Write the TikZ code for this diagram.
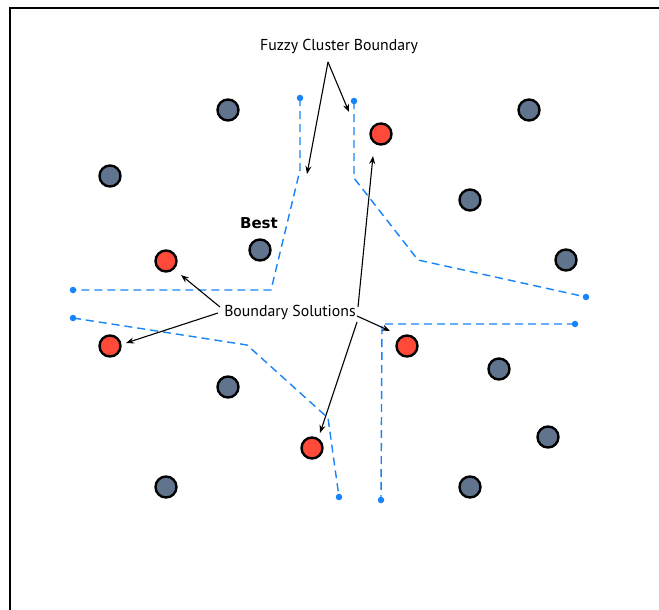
\documentclass[tikz,border=0pt]{standalone}
\usepackage{fontspec}
\setmainfont{PT Sans}
\newfontfamily\bestfont{DejaVu Sans}
\usetikzlibrary{arrows.meta}
\definecolor{solgray}{RGB}{96,116,142}
\definecolor{solred}{RGB}{255,74,58}
\definecolor{bndblue}{RGB}{22,132,250}
\begin{document}
\begin{tikzpicture}[x=1pt,y=-1pt,
  sol/.style={circle,draw=black,line width=2.4pt,minimum size=21pt,inner sep=0pt},
  gsol/.style={sol,fill=solgray},
  rsol/.style={sol,fill=solred},
  bnd/.style={draw=bndblue,line width=1.4pt,dash pattern=on 8pt off 5pt},
  bdot/.style={circle,fill=bndblue,inner sep=0pt,minimum size=6.5pt},
  lbl/.style={font=\fontsize{15.8}{17}\selectfont,inner sep=1pt},
  arr/.style={-{Stealth[length=8pt,width=6pt]},line width=1.1pt,black}
]
\useasboundingbox (0,0) rectangle (659,610);
\fill[white] (0,0) rectangle (659,610);
% frame
\draw[line width=2.5pt,line join=miter] (10,612) -- (10,8) -- (661,8);

% gray solutions
\node[gsol] (g1) at (228,110) {};
\node[gsol] (g2) at (110,176) {};
\node[gsol] (g3) at (529,110) {};
\node[gsol] (g4) at (470,200) {};
\node[gsol] (g5) at (260,250) {};
\node[gsol] (g6) at (566,260) {};
\node[gsol] (g7) at (228,387) {};
\node[gsol] (g8) at (499,369) {};
\node[gsol] (g9) at (548,437) {};
\node[gsol] (g10) at (166,487) {};
\node[gsol] (g11) at (470,487) {};
% red solutions
\node[rsol] (r1) at (381,134) {};
\node[rsol] (r2) at (166,261) {};
\node[rsol] (r3) at (110,346) {};
\node[rsol] (r4) at (407,346) {};
\node[rsol] (r5) at (312,448) {};

% boundary lines
\coordinate (a1) at (300,98);
\coordinate (a2) at (300,170);
\coordinate (a3) at (271,290);
\coordinate (a4) at (73,290);
\coordinate (b1) at (354,101);
\coordinate (b2) at (354,178);
\coordinate (b3) at (418,260);
\coordinate (b4) at (586,297);
\coordinate (c1) at (575,324);
\coordinate (c2) at (382,324);
\coordinate (c3) at (381,500);
\coordinate (d1) at (73,318);
\coordinate (d2) at (247,345);
\coordinate (d3) at (328,418);
\coordinate (d4) at (339,497);
\draw[bnd] (a1) -- (a2) -- (a3) -- (a4);
\draw[bnd] (b1) -- (b2) -- (b3) -- (b4);
\draw[bnd] (c1) -- (c2) -- (c3);
\draw[bnd] (d1) -- (d2) -- (d3) -- (d4);
\foreach \p in {a1,a4,b1,b4,c1,c3,d1,d4} \node[bdot] (dot\p) at (\p) {};

% labels
\node[lbl] (fz) at (339,46) {Fuzzy Cluster Boundary};
\node[lbl,font=\fontsize{15}{17}\selectfont\bestfont\bfseries] (best) at (259,223) {Best};
\node[lbl] (bs) at (290,312) {Boundary Solutions};

% arrows from Fuzzy Cluster Boundary
\coordinate (fzA) at (328,62);
\coordinate (tA) at (307,174);
\coordinate (tB) at (349,112);
\draw[arr] (fzA) -- (tA);
\draw[arr] (fzA) -- (tB);

% arrows from Boundary Solutions
\coordinate (s1) at (220,307);
\coordinate (s2) at (218,313);
\coordinate (s3) at (357,316);
\coordinate (s4) at (358,307);
\coordinate (s5) at (357,322);
\coordinate (e1) at (181,275);
\coordinate (e2) at (126,343);
\coordinate (e3) at (390,331);
\coordinate (e4) at (373,156);
\coordinate (e5) at (320,433);
\draw[arr] (s1) -- (e1);
\draw[arr] (s2) -- (e2);
\draw[arr] (s3) -- (e3);
\draw[arr] (s4) -- (e4);
\draw[arr] (s5) -- (e5);
\end{tikzpicture}
\end{document}
